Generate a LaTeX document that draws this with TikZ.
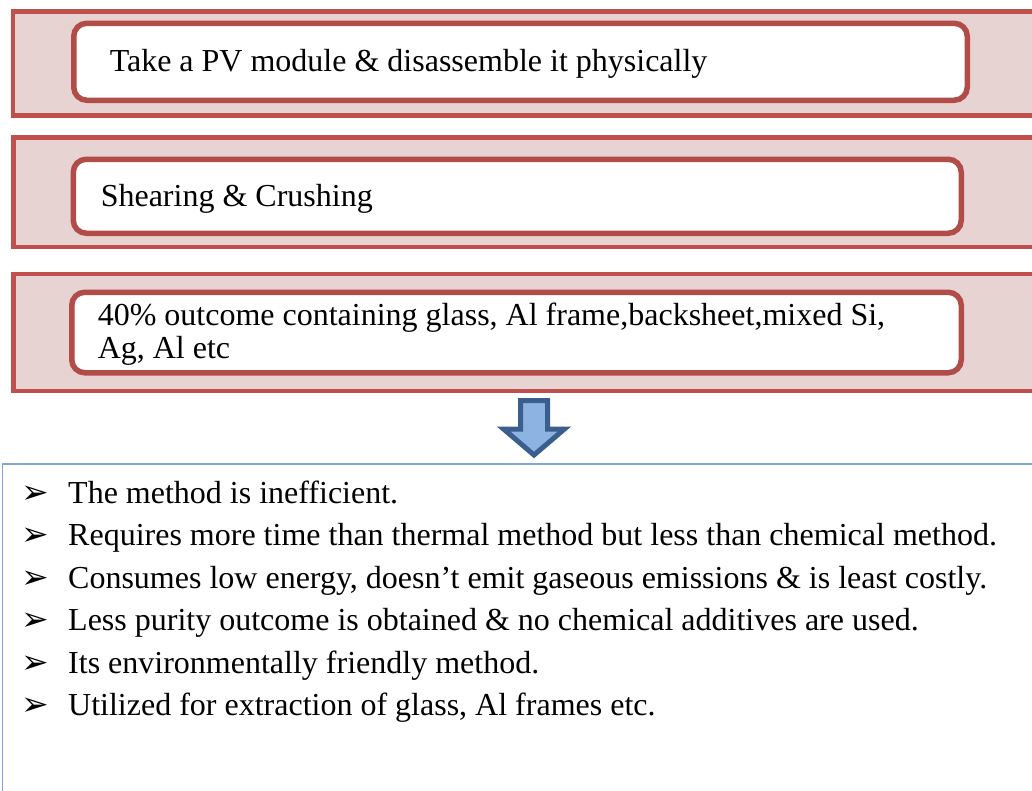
\documentclass[tikz,border=0pt]{standalone}
\usepackage{fontspec}
\setmainfont{Liberation Serif}
\newfontfamily\dingfont{DejaVu Sans}
\usetikzlibrary{positioning}
\definecolor{bandred}{HTML}{C0504D}
\definecolor{bandfill}{HTML}{E8D3D3}
\definecolor{boxred}{HTML}{B24C48}
\definecolor{arrowfill}{HTML}{8DB3E2}
\definecolor{arrowline}{HTML}{3A5F8F}
\definecolor{listblue}{HTML}{7EA6DA}
\newcommand{\pointer}{\makebox[47pt][l]{\dingfont\fontsize{33}{33}\selectfont ➢}}
\tikzset{item/.style={anchor=base west, inner sep=0pt, font=\fontsize{32}{40}\selectfont}}

\begin{document}
\begin{tikzpicture}[x=1pt,y=-1pt]
\tikzstyle{band} = [rectangle, draw=bandred, fill=bandfill, line width=4.5pt, anchor=north west, inner sep=0pt, minimum width=1060pt]
\tikzstyle{stepbox} = [rectangle, rounded corners=13pt, draw=boxred, fill=white, line width=5.5pt, anchor=north west, align=flush left, text height=22pt, text depth=2pt, font=\fontsize{32}{33.3}\selectfont]

\clip (0,0) rectangle (1032,790);
% bands
    \node [band, minimum height=104pt] (band1) at (10.5,9) {};
    \node [band, minimum height=109.5pt] (band2) at (11,135) {};
    \node [band, minimum height=117pt] (band3) at (11,271.5) {};
% steps
    \node [stepbox, minimum width=893.5pt, minimum height=77pt, inner xsep=36pt, text width=821.5pt] (take) at (71,20.5) {Take a PV module \& disassemble it physically};
    \node [stepbox, minimum width=888pt, minimum height=74pt, inner xsep=27.5pt, text width=833pt] (shear) at (70.5,156.5) {Shearing \& Crushing};
    \node [stepbox, minimum width=889.5pt, minimum height=80.5pt, inner xsep=26pt, text width=837.5pt, text depth=36pt] (outcome) at (69,289.5) {40\% outcome containing glass, Al frame,backsheet,mixed Si,\\Ag, Al etc};
% arrow
    \filldraw [draw=arrowline, fill=arrowfill, line width=5pt, line join=miter] (520.5,400.5) -- (547.5,400.5) -- (547.5,429) -- (564.5,429) -- (534,455) -- (503.5,429) -- (520.5,429) -- cycle;
% summary
    \node [draw=listblue, line width=1.5pt, anchor=north west, minimum width=1100pt, minimum height=400pt, inner sep=0pt] (summary) at (1.5,463) {};
    \node [item] (item1) at (21,503) {\pointer The method is inefficient.};
    \node [item] (item2) at (21,545.5) {\pointer Requires more time than thermal method but less than chemical method.};
    \node [item] (item3) at (21,588) {\pointer Consumes low energy, doesn’t emit gaseous emissions \& is least costly.};
    \node [item] (item4) at (21,630.5) {\pointer Less purity outcome is obtained \& no chemical additives are used.};
    \node [item] (item5) at (21,673) {\pointer Its environmentally friendly method.};
    \node [item] (item6) at (21,715.5) {\pointer Utilized for extraction of glass, Al frames etc.};
\end{tikzpicture}
\end{document}
